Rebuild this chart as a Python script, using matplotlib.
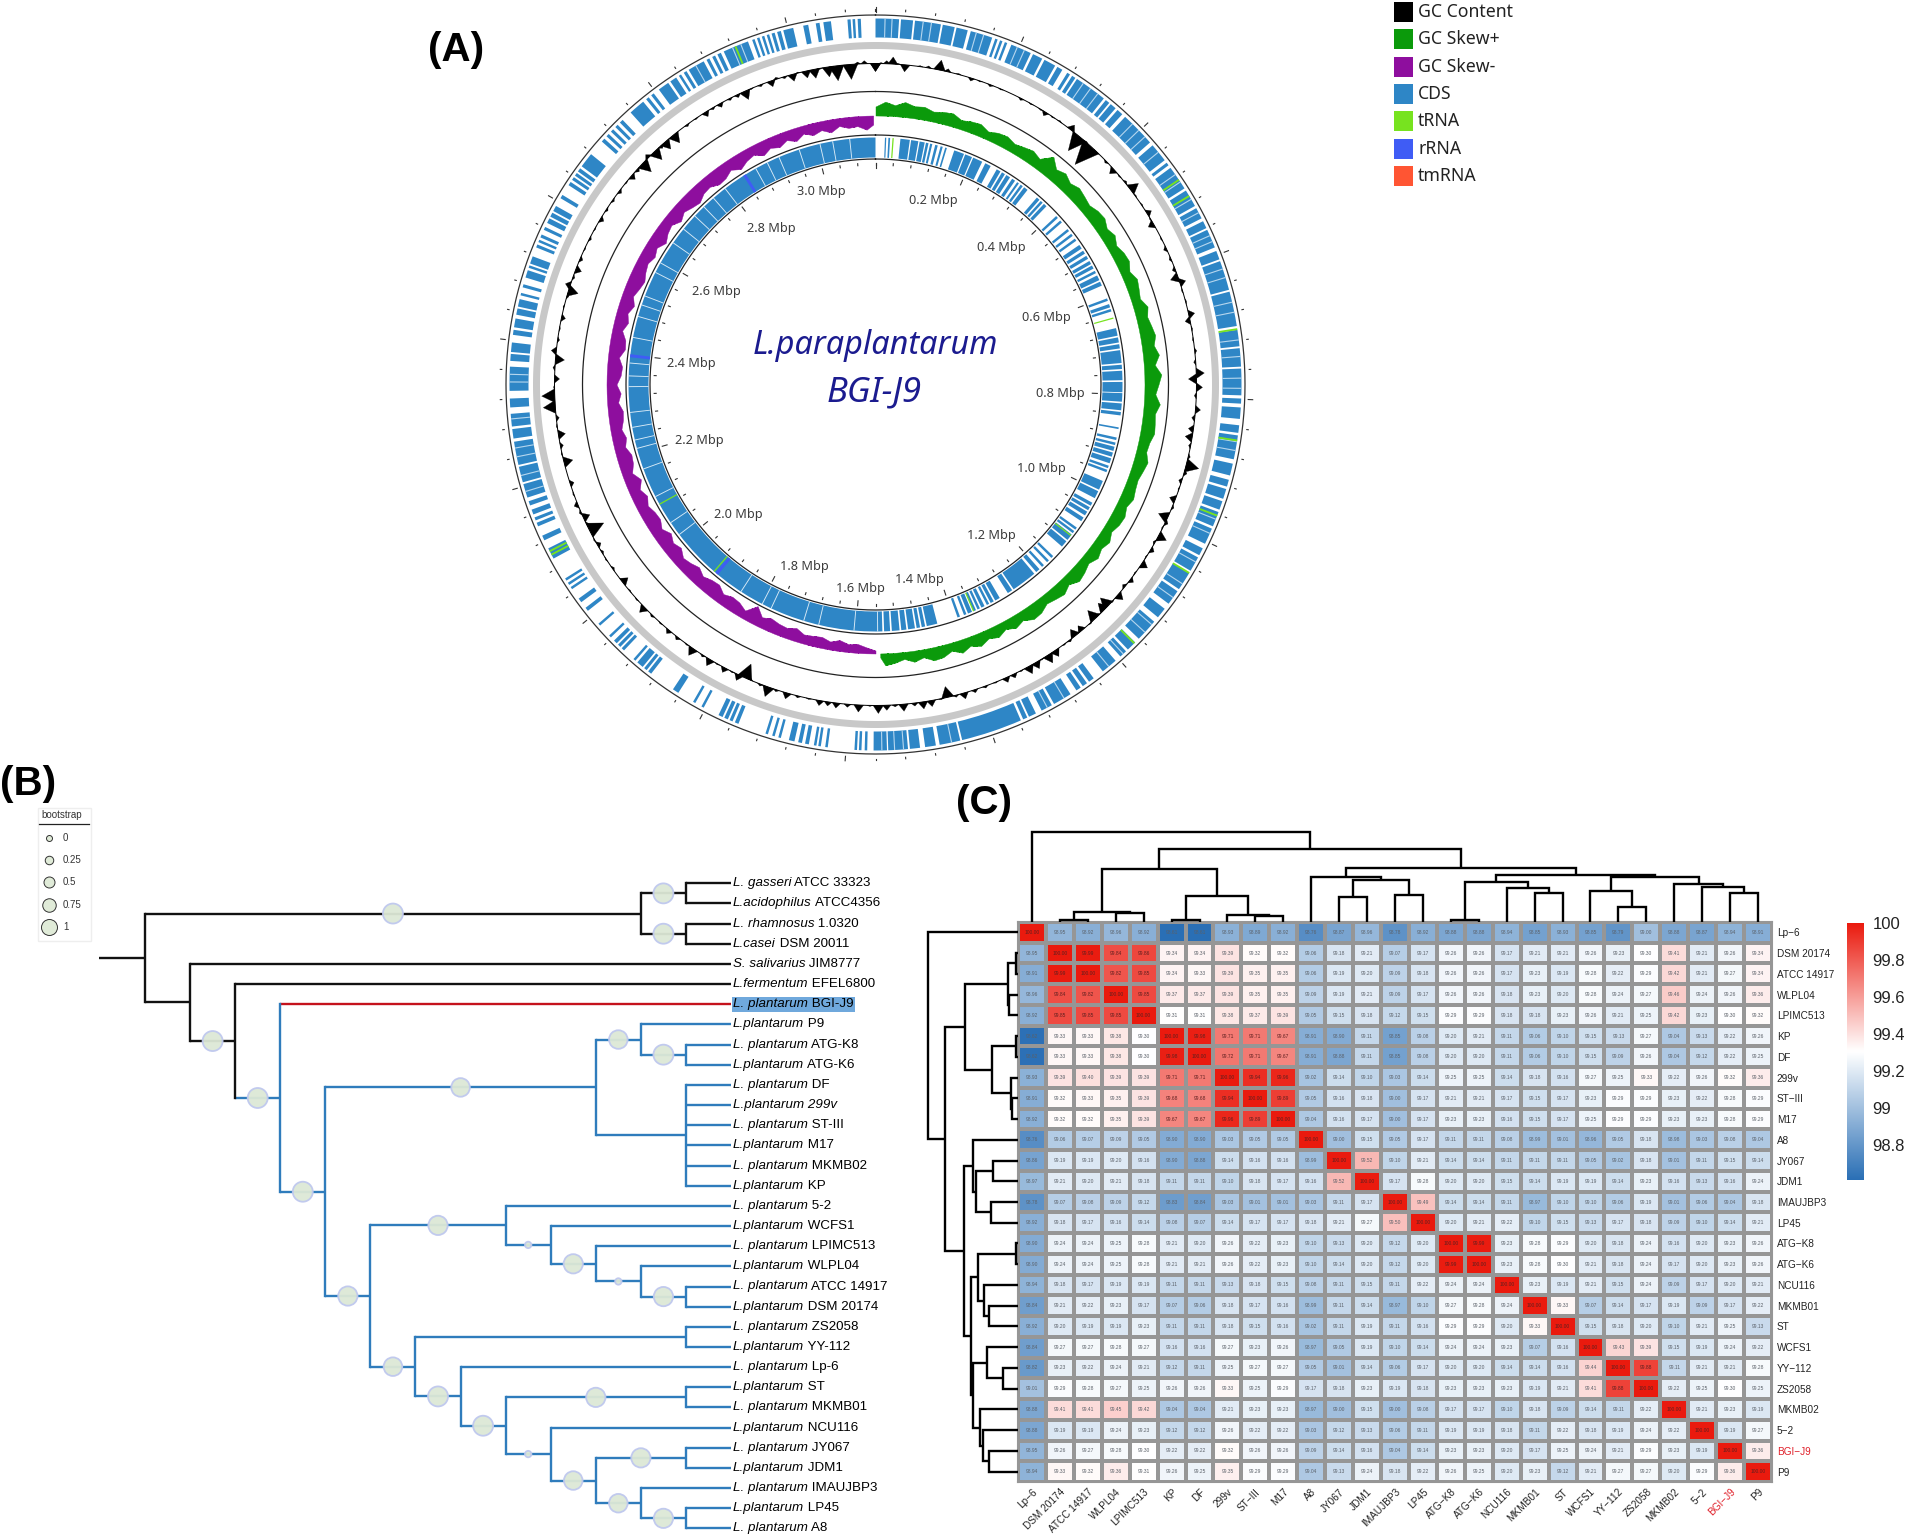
import numpy as np
import matplotlib
matplotlib.use("Agg")
import matplotlib.pyplot as plt
from matplotlib.colors import LinearSegmentedColormap, Normalize
from matplotlib.patches import Rectangle

plt.rcParams['font.family'] = ['Liberation Sans', 'DejaVu Sans']

W, H = 1905, 1538

# ---------- panel C data ----------
strains = ["Lp-6", "DSM 20174", "ATCC 14917", "WLPL04", "LPIMC513", "KP", "DF", "299v", "ST-III", "M17",
           "A8", "JY067", "JDM1", "IMAUJBP3", "LP45", "ATG-K8", "ATG-K6", "NCU116", "MKMB01", "ST",
           "WCFS1", "YY-112", "ZS2058", "MKMB02", "5-2", "BGI-J9", "P9"]

identity = [
 [100.00,98.95,98.92,98.96,98.92,98.61,98.61,98.93,98.89,98.92,98.76,98.87,98.96,98.78,98.92,98.88,98.88,98.94,98.85,98.93,98.85,98.79,99.00,98.88,98.87,98.94,98.91],
 [98.95,100.00,99.99,99.84,99.86,99.34,99.34,99.39,99.32,99.32,99.06,99.18,99.21,99.07,99.17,99.26,99.26,99.17,99.21,99.21,99.26,99.23,99.30,99.41,99.21,99.26,99.34],
 [98.91,99.99,100.00,99.82,99.85,99.34,99.33,99.39,99.35,99.35,99.06,99.19,99.20,99.09,99.18,99.26,99.26,99.17,99.23,99.19,99.28,99.22,99.29,99.42,99.21,99.27,99.34],
 [98.96,99.84,99.82,100.00,99.85,99.37,99.37,99.39,99.35,99.35,99.09,99.19,99.21,99.09,99.17,99.26,99.26,99.18,99.23,99.20,99.28,99.24,99.27,99.46,99.24,99.26,99.36],
 [98.92,99.85,99.85,99.85,100.00,99.31,99.31,99.38,99.37,99.39,99.05,99.15,99.18,99.12,99.15,99.29,99.29,99.18,99.18,99.23,99.26,99.21,99.25,99.42,99.23,99.30,99.32],
 [98.62,99.33,99.33,99.38,99.30,100.00,99.98,99.71,99.71,99.67,98.91,98.90,99.11,98.85,99.08,99.20,99.21,99.11,99.06,99.10,99.15,99.13,99.27,99.04,99.13,99.22,99.26],
 [98.62,99.33,99.33,99.38,99.30,99.98,100.00,99.72,99.71,99.67,98.91,98.88,99.11,98.85,99.08,99.20,99.20,99.11,99.06,99.10,99.15,99.09,99.26,99.04,99.12,99.22,99.25],
 [98.93,99.39,99.40,99.39,99.39,99.71,99.71,100.00,99.94,99.96,99.02,99.14,99.10,99.03,99.14,99.25,99.25,99.14,99.18,99.16,99.27,99.25,99.33,99.22,99.26,99.32,99.36],
 [98.91,99.32,99.33,99.35,99.39,99.68,99.68,99.94,100.00,99.89,99.05,99.16,99.18,99.00,99.17,99.21,99.21,99.17,99.15,99.17,99.23,99.29,99.29,99.23,99.22,99.28,99.29],
 [98.92,99.32,99.32,99.35,99.39,99.67,99.67,99.96,99.89,100.00,99.04,99.16,99.17,99.00,99.17,99.23,99.23,99.16,99.15,99.17,99.25,99.29,99.29,99.23,99.23,99.28,99.29],
 [98.76,99.06,99.07,99.09,99.05,98.90,98.90,99.03,99.05,99.05,100.00,99.00,99.15,99.05,99.17,99.11,99.11,99.08,98.99,99.01,98.96,99.05,99.18,98.98,99.03,99.08,99.04],
 [98.86,99.19,99.19,99.20,99.16,98.90,98.88,99.14,99.16,99.16,98.99,100.00,99.52,99.10,99.21,99.14,99.14,99.11,99.11,99.11,99.05,99.02,99.18,99.01,99.11,99.15,99.14],
 [98.97,99.21,99.20,99.21,99.18,99.11,99.11,99.10,99.18,99.17,99.16,99.52,100.00,99.17,99.28,99.20,99.20,99.15,99.14,99.19,99.19,99.14,99.23,99.16,99.13,99.16,99.24],
 [98.78,99.07,99.08,99.09,99.12,98.83,98.84,99.03,99.01,99.01,99.03,99.11,99.17,100.00,99.49,99.14,99.14,99.11,98.97,99.10,99.10,99.06,99.19,99.01,99.06,99.04,99.18],
 [98.92,99.18,99.17,99.16,99.14,99.08,99.07,99.14,99.17,99.17,99.18,99.21,99.27,99.50,100.00,99.20,99.21,99.22,99.10,99.15,99.13,99.17,99.18,99.09,99.10,99.14,99.21],
 [98.90,99.24,99.24,99.25,99.28,99.21,99.20,99.26,99.22,99.23,99.10,99.13,99.20,99.12,99.20,100.00,99.99,99.23,99.28,99.29,99.20,99.18,99.24,99.16,99.20,99.23,99.26],
 [98.90,99.24,99.24,99.25,99.28,99.21,99.21,99.26,99.22,99.23,99.10,99.14,99.20,99.12,99.20,99.99,100.00,99.23,99.28,99.30,99.21,99.18,99.24,99.17,99.20,99.23,99.26],
 [98.94,99.18,99.17,99.19,99.19,99.11,99.11,99.13,99.18,99.15,99.08,99.11,99.15,99.11,99.22,99.24,99.24,100.00,99.23,99.19,99.21,99.15,99.24,99.09,99.17,99.20,99.21],
 [98.84,99.21,99.22,99.23,99.17,99.07,99.06,99.18,99.17,99.16,98.99,99.11,99.14,98.97,99.10,99.27,99.28,99.24,100.00,99.33,99.07,99.14,99.17,99.19,99.09,99.17,99.22],
 [98.92,99.20,99.19,99.19,99.23,99.11,99.11,99.18,99.15,99.16,99.02,99.11,99.19,99.11,99.16,99.29,99.29,99.20,99.33,100.00,99.15,99.18,99.20,99.10,99.21,99.25,99.13],
 [98.84,99.27,99.27,99.28,99.27,99.16,99.16,99.27,99.23,99.26,98.97,99.05,99.19,99.10,99.14,99.24,99.24,99.23,99.07,99.16,100.00,99.43,99.39,99.15,99.19,99.24,99.22],
 [98.82,99.23,99.22,99.24,99.21,99.12,99.11,99.25,99.27,99.27,99.05,99.01,99.14,99.06,99.17,99.20,99.20,99.14,99.14,99.16,99.44,100.00,99.88,99.11,99.21,99.21,99.28],
 [99.01,99.29,99.28,99.27,99.25,99.26,99.26,99.33,99.25,99.29,99.17,99.18,99.23,99.19,99.18,99.23,99.23,99.23,99.19,99.21,99.41,99.88,100.00,99.22,99.25,99.30,99.25],
 [98.88,99.41,99.41,99.45,99.42,99.04,99.04,99.21,99.23,99.23,98.97,99.00,99.15,99.00,99.08,99.17,99.17,99.10,99.18,99.09,99.14,99.11,99.22,100.00,99.21,99.23,99.19],
 [98.88,99.19,99.19,99.24,99.23,99.12,99.12,99.26,99.22,99.22,99.03,99.12,99.13,99.06,99.11,99.19,99.19,99.18,99.11,99.22,99.18,99.19,99.24,99.22,100.00,99.19,99.27],
 [98.95,99.26,99.27,99.28,99.30,99.22,99.22,99.32,99.26,99.26,99.09,99.14,99.16,99.04,99.14,99.23,99.23,99.20,99.17,99.25,99.24,99.21,99.29,99.23,99.19,100.00,99.36],
 [98.94,99.33,99.32,99.36,99.31,99.26,99.25,99.35,99.29,99.29,99.04,99.13,99.24,99.18,99.22,99.26,99.25,99.20,99.23,99.12,99.21,99.27,99.27,99.20,99.29,99.36,100.00],
]

# (height, left, right)
cluster = (90, "Lp-6",
           (72.7,
            (52.7,
             (10, (2.3, "DSM 20174", "ATCC 14917"), (9, "WLPL04", "LPIMC513")),
             (26.3, (2.3, "KP", "DF"), (7.3, "299v", (6, "ST-III", "M17")))),
            (54,
             (45, "A8", (42.3, (25, "JY067", "JDM1"), (27.3, "IMAUJBP3", "LP45"))),
             (47.3,
              (40.3, (1.7, "ATG-K8", "ATG-K6"), (34.3, "NCU116", (29.3, "MKMB01", "ST"))),
              (45.3,
               (31, "WCFS1", (15, "YY-112", "ZS2058")),
               (37.7, "MKMB02", (35, "5-2", (28.7, "BGI-J9", "P9"))))))))

cbar_ticks = [100, 99.8, 99.6, 99.4, 99.2, 99, 98.8]

# ---------- panel B data ----------
species = {"ATCC 33323": "L. gasseri", "ATCC4356": "L.acidophilus", "1.0320": "L. rhamnosus", "DSM 20011": "L.casei",
           "JIM8777": "S. salivarius", "EFEL6800": "L.fermentum", "BGI-J9": "L. plantarum", "P9": "L.plantarum",
           "ATG-K8": "L. plantarum", "ATG-K6": "L.plantarum", "DF": "L. plantarum", "299v": "L.plantarum",
           "ST-III": "L. plantarum", "M17": "L.plantarum", "MKMB02": "L. plantarum", "KP": "L.plantarum",
           "5-2": "L. plantarum", "WCFS1": "L.plantarum", "LPIMC513": "L. plantarum", "WLPL04": "L.plantarum",
           "ATCC 14917": "L. plantarum", "DSM 20174": "L.plantarum", "ZS2058": "L. plantarum", "YY-112": "L.plantarum",
           "Lp-6": "L. plantarum", "ST": "L.plantarum", "MKMB01": "L. plantarum", "NCU116": "L.plantarum",
           "JY067": "L. plantarum", "JDM1": "L.plantarum", "IMAUJBP3": "L. plantarum", "LP45": "L.plantarum",
           "A8": "L. plantarum"}

# (bootstrap or None, children...)
plantarum = (1.0, "BGI-J9",
             (1.0,
              (0.9, (0.9, "P9", (1.0, "ATG-K8", "ATG-K6")),
               (None, "DF", "299v", "ST-III", "M17", "MKMB02", "KP")),
              (0.95,
               (0.95, "5-2",
                (0.03, "WCFS1",
                 (0.95, "LPIMC513",
                  (0.03, "WLPL04", (0.95, "ATCC 14917", "DSM 20174"))))),
               (0.9, (None, "ZS2058", "YY-112"),
                (1.0, "Lp-6",
                 (1.0, (0.95, "ST", "MKMB01"),
                  (0.03, "NCU116",
                   (0.9, (0.95, "JY067", "JDM1"),
                    (0.9, "IMAUJBP3", (0.95, "LP45", "A8"))))))))))
phylo = (None,
         (1.0, (1.0, "ATCC 33323", "ATCC4356"), (1.0, "1.0320", "DSM 20011")),
         (None, "JIM8777",
          (1.0, "EFEL6800", plantarum)))

boot_levels = [0, 0.25, 0.5, 0.75, 1]
boot_labels = ["0", "0.25", "0.5", "0.75", "1"]

# ---------- panel A data ----------
genome_mbp = 3.12
ring_labels = ["0.2 Mbp", "0.4 Mbp", "0.6 Mbp", "0.8 Mbp", "1.0 Mbp", "1.2 Mbp", "1.4 Mbp", "1.6 Mbp",
               "1.8 Mbp", "2.0 Mbp", "2.2 Mbp", "2.4 Mbp", "2.6 Mbp", "2.8 Mbp", "3.0 Mbp"]
ring_label_dx = [58, 126, 171, 184.5, 165.5, 116, 43.5, -15, -71.5, -137, -176, -184, -159, -104, -54]
ring_label_dy = [184, 137, 66.5, -9, -84, -151, -194.5, -204, -182, -130, -56, 21, 93, 156, 193]

# gene blocks in degrees clockwise from the origin
outer_cds = [(0, 3.7), (4, 5.9), (6.2, 10.3), (10.6, 12.5), (12.8, 14.6), (15.1, 18.6), (19.1, 19.5), (19.9, 20.3),
             (20.7, 21.1), (21.8, 25.1), (25.5, 27.1), (27.5, 29.4), (29.8, 30.7), (31.6, 32.1), (32.5, 33.1),
             (33.4, 38.6), (39, 39.7), (40, 41), (41.4, 42.4), (43, 48.6), (49.2, 52.2), (52.7, 53.2), (53.7, 57.6),
             (58, 60.8), (61.2, 63), (63.5, 64.7), (65, 68), (68.6, 70), (70.3, 75), (75.3, 80.8), (81.4, 84),
             (84.3, 87.2), (87.5, 91.7), (92.2, 93), (93.6, 95.4), (96.4, 97.6), (98, 101.8), (102.5, 104.4),
             (105.1, 106.2), (106.6, 108.2), (108.6, 110), (110.4, 112.8), (113.2, 115.8), (116.6, 117.8),
             (118.2, 120.6), (121, 124), (124.4, 126.8), (127.8, 129.5), (130.4, 134), (134.8, 136.4), (136.8, 138),
             (139, 141.6), (143.4, 144.3), (144.7, 145.5), (145.9, 146.7), (147.8, 150.8), (151.2, 153),
             (154, 155.2), (155.5, 156.2), (156.6, 166.3), (166.6, 169.9), (170.5, 172.2), (173, 174.6), (174.9, 178),
             (178.2, 180.3), (181.3, 181.7), (182.2, 182.6), (182.9, 183.3), (187.5, 187.9), (188.6, 189),
             (189.3, 189.7), (190.5, 191.1), (191.6, 192.2), (192.8, 193.7), (195, 195.4), (196, 196.4), (197.1, 197.5),
             (202, 202.6), (203, 203.5), (203.8, 204.4), (204.7, 205.4), (208, 208.4), (209.5, 209.9), (212.6, 213.6),
             (217.8, 218.4), (218.7, 219.2), (219.5, 220.6), (221, 221.4), (223.4, 223.9), (224.2, 224.7), (225, 225.6),
             (226.3, 226.7), (228.8, 229.2), (231.8, 232.4), (233.5, 234.2), (236, 236.4), (236.8, 237.2), (237.6, 238),
             (241.6, 243.4), (244.8, 245.6), (247.2, 247.8), (248.2, 248.7), (249.2, 250), (250.7, 251.4), (252, 254.2),
             (254.5, 257), (257.3, 261), (261.5, 263), (263.4, 265.4), (266.4, 267.8), (269, 272.8), (273.7, 274.8),
             (275.1, 276.6), (277.8, 278.6), (279, 280.4), (281, 282), (282.3, 283.5), (284.1, 284.5), (285.4, 285.9),
             (287, 288.2), (288.6, 289), (289.3, 290.5), (292, 292.5), (292.9, 293.3), (293.7, 294.2), (295, 295.5),
             (296.2, 297), (297.3, 298), (298.3, 299.2), (300.6, 301.2), (303, 303.6), (304, 304.5), (304.8, 305.3),
             (305.6, 306.2), (306.6, 309), (311.6, 312.2), (312.7, 313.2), (313.7, 314.2), (314.7, 315.2), (315.7, 316.3),
             (318, 320.6), (321.2, 321.7), (322.2, 322.7), (323.7, 325.5), (325.9, 327), (327.5, 327.9), (328.4, 328.9),
             (329.3, 332), (332.5, 333), (333.5, 334), (334.4, 335), (335.5, 339.6), (340.3, 340.7), (341.1, 341.5),
             (341.9, 342.3), (342.7, 343.1), (343.5, 344), (344.4, 345), (345.4, 347), (348.6, 349.4), (350.6, 351.2),
             (351.8, 353), (355.6, 356.1), (356.4, 356.8), (357.2, 357.7)]
outer_thin_gaps = [1.5, 2.6, 7.5, 8.8, 16, 17.2, 22.8, 24, 34.6, 36, 37.4, 44.6, 46, 47.4, 50.6, 55, 56.4, 59.6, 62,
                   66, 67, 71.6, 73, 77, 78.6, 83, 85.6, 89, 90.6, 99, 100.4, 111.6, 114, 119, 123, 125.6, 131, 132.6,
                   137.4, 140.4, 149, 152, 168, 175.6, 177, 179, 253, 255.6, 258.6, 260, 264.6, 270.4, 271.6, 330.6,
                   337, 338.4]
outer_trna = [56, 59, 81.3, 98.8, 111, 121, 135, 242.3, 242.9, 337.5]

inner_cds = [(2.2, 2.5), (3, 3.4), (5.8, 8), (8.3, 10), (10.3, 11.5), (11.8, 12.4), (12.8, 13.3), (14, 14.6), (15.3, 15.8),
             (16.4, 16.8), (18.6, 21), (21.3, 23), (23.3, 25.6), (26.4, 27.8), (29.4, 30.4), (30.8, 31.6), (32, 33),
             (33.6, 34.4), (35, 35.5), (36, 36.6), (37, 38), (40.8, 41.6), (42, 42.6), (43, 43.8), (47, 47.6), (48.4, 49),
             (51, 51.6), (52.4, 53), (53.8, 54.4), (55.6, 56.6), (57.2, 58), (58.6, 59.4), (60, 60.8), (61.2, 62),
             (62.6, 63.2), (63.8, 65), (65.4, 66.4), (69.6, 70.2), (71, 71.8), (72.2, 72.8), (76.8, 78.6), (79, 80.2),
             (80.6, 81.6), (82, 85), (85.4, 86.4), (86.8, 89), (89.4, 91.8), (92, 94), (94.4, 96), (96.4, 97.2),
             (100, 100.4), (102.4, 103), (103.6, 104.2), (104.6, 105.6), (106, 107), (107.4, 108.6), (109.2, 109.8),
             (110.2, 110.8), (113, 115.2), (115.6, 117.4), (118.6, 119.4), (119.8, 120.6), (121, 122), (122.6, 123.6),
             (125.4, 126), (126.4, 127), (127.4, 129), (129.4, 131), (134, 134.6), (135.4, 136), (137, 137.6),
             (138.4, 139.4), (140, 146), (146.4, 147.6), (149.8, 151), (151.4, 152.2), (152.6, 153.2), (153.8, 154.6),
             (155, 155.6), (156, 156.6), (157, 158), (158.4, 159), (160, 160.6), (165.5, 168), (168.4, 169.2),
             (169.6, 170.4), (170.8, 172.4), (172.8, 174), (174.4, 176.2), (176.6, 178), (178.4, 360)]
inner_thin_gaps = [179.5, 185, 193.3, 196.9, 205, 207.3, 213, 232.6, 236, 243, 250, 255, 257, 260, 263.5, 269.5, 272, 275,
                   281, 286, 288.8, 291, 297, 299.5, 305, 309, 313, 316, 319, 322.5, 331, 334, 337, 342, 347, 350, 354]
inner_trna = [4.1, 74.4, 127.7, 156.6, 220.8, 241]
inner_rrna = [220, 276.7, 328]

# GC content peaks: angle in degrees and height off the ring baseline
gc_deg = [0, 1, 2, 3.1, 4, 5.3, 6.5, 8, 9.5, 11.5, 13, 15, 17.4, 19, 21, 23, 25, 27, 29, 31, 32, 33.5, 35, 37.5, 38.5, 39.5,
          40.4, 41, 42.2, 43.5, 44.5, 46, 48, 49.5, 51, 52.6, 54, 56, 57.8, 59, 60, 61.5, 63, 65, 67, 69, 70.5, 71.5, 73, 75,
          77.4, 78.5, 80, 82, 84, 86, 88, 89, 90.5, 92, 94.5, 96, 98, 99.5, 101, 103, 104.6, 106, 107.5, 109, 111, 112.5,
          114.5, 115.5, 116.5, 118.2, 119.5, 121, 122.5, 124, 126, 127.5, 129, 131, 132.5, 133.5, 134.5, 136, 136.8, 138,
          140, 141.5, 142.8, 144, 146, 147.5, 148.8, 150, 151.5, 153, 154.5, 156, 158, 160, 162, 164, 165.5, 167, 168.2,
          170, 171.5, 173, 175, 176.5, 178, 179.5, 181, 183, 185, 187, 188.5, 190, 192, 194, 196, 198, 199.5, 201, 203,
          204, 205.2, 206.5, 208, 209.5, 211, 212.5, 214.6, 216, 218, 220, 222, 224, 226, 228, 230, 232, 233, 235, 237,
          238.5, 240, 241, 243, 244.2, 245.5, 246.5, 248, 250, 252, 254, 256, 257.5, 259, 261, 262.5, 264, 266, 267, 268,
          269.5, 271, 273, 274.5, 276, 278, 280, 282, 284, 286, 287, 288, 289.5, 291, 293, 295, 297, 299, 301, 303, 305,
          307, 309, 310.5, 312, 313.5, 315, 316.5, 318, 319, 321, 322, 324, 326, 328, 329.5, 331, 333, 334.5, 336, 337.2,
          339, 341, 342, 343.5, 345, 346, 347.5, 349, 350, 351.5, 353, 354, 355.5, 356.8, 358, 360]
gc_val = [-8, 1, 3, 7, 1, -7, 0, 1, 2, 10, 3, 1, -3, -1, -2, -1, 0, -2, -1, -1, -4, -1, 1, 6, 0, -18,
          0, 1, -24, -3, 0, -2, -6, -1, 2, 10, 1, 1, 5, -1, -6, 0, -1, -3, -2, -3, -8, 6, -1, 1,
          6, -5, 1, -1, 2, -2, 8, -8, 6, -2, 5, -3, -5, -7, -2, 2, 13, 3, -3, -1, -6, 2,
          -10, 3, -1, 9, -2, 4, -1, 7, -1, 4, -3, 7, 1, -11, -9, -2, -11, 1,
          -6, -8, 2, 1, 7, 9, 1, 7, 8, 1, 4, 5, 1, 2, 3, 6, 2, -11, 1,
          6, 7, 3, 7, 2, 5, 8, 1, 7, 3, 5, 4, 5, 1, 2, 6, 2, 10, 2, -2,
          -15, 6, 1, 5, 1, 7, 2, 8, 1, 3, 4, 1, 2, 7, 1, -1, -7, 0, -2, 1,
          -2, -4, 1, -16, -2, -7, 2, 4, 1, -4, 0, -9, 1, -3, -7, 1, -3, 12, 0, 13,
          1, -5, 2, -9, 5, -2, -1, -4, 1, -2, -10, 5, -2, -6, -3, -1, -2, -1, -4, -2, -2,
          -3, -1, -5, -3, -12, 4, -11, -3, -9, -10, 0, -2, -1, -5, -2, -4, -2, -3, -9, -1,
          -2, -6, 2, -2, -7, 1, -7, -9, -1, -10, -15, -1, -15, 2, 3, -8]

# skew amplitude every 2 degrees, closed with the last reading at the strand switch
skew_plus = [9, 14, 11, 15, 12, 13, 10, 12, 13, 9, 11, 12, 8, 11, 12, 9, 11, 13, 10, 20,
             12, 15, 11, 14, 12, 10, 13, 14, 10, 13, 9, 12, 13, 9, 13, 11, 9, 14, 11, 13,
             15, 12, 16, 11, 17, 14, 11, 16, 12, 13, 14, 11, 10, 14, 12, 10, 11, 13, 10, 13,
             12, 9, 13, 10, 13, 9, 12, 14, 9, 13, 11, 9, 13, 14, 9, 12, 8, 12, 9, 13,
             9, 13, 8, 12, 13, 8, 11, 7, 10, 12, 4]
skew_minus = [3, 6, 9, 8, 11, 8, 11, 10, 9, 13, 10, 11, 13, 10, 18, 8, 12, 13, 10, 15,
              14, 11, 15, 12, 10, 15, 12, 16, 11, 15, 14, 11, 15, 11, 16, 10, 14, 15, 11, 14,
              11, 14, 15, 11, 14, 10, 14, 15, 11, 16, 15, 10, 14, 11, 15, 11, 14, 16, 13, 11,
              14, 11, 16, 12, 10, 15, 11, 14, 16, 12, 11, 15, 14, 10, 15, 11, 9, 14, 10, 13,
              9, 13, 8, 12, 9, 13, 8, 11, 10, 14, 9]

legend_names = ["GC Content", "GC Skew+", "GC Skew-", "CDS", "tRNA", "rRNA", "tmRNA"]
legend_colors = ["#000000", "#0B9A0B", "#8E0E9E", "#2E86C6", "#77E31F", "#3F5CF5", "#FF5533"]

# ---------- figure ----------
fig = plt.figure(figsize=(W / 100, H / 100), dpi=100, facecolor="white")


def px_axes(x0, y0, x1, y1, **kw):
    return fig.add_axes([x0 / W, 1 - y1 / H, (x1 - x0) / W, (y1 - y0) / H], **kw)


# page axes for free text, in pixels
page = px_axes(0, 0, W, H)
page.set_xlim(0, W)
page.set_ylim(H, 0)
page.set_axis_off()
page.text(428, 50, "(A)", fontsize=29, fontweight="bold", va="center")
page.text(0, 784, "(B)", fontsize=29, fontweight="bold", va="center")
page.text(956, 803, "(C)", fontsize=29, fontweight="bold", va="center")

for i, (nm, col) in enumerate(zip(legend_names, legend_colors)):
    yy = 12 + 27.3 * i
    page.add_patch(Rectangle((1394, yy - 10), 19, 20, fc=col, ec="none"))
    page.text(1418, yy, nm, fontsize=12.7, va="center", color="#222222", family="Noto Sans")

cx, cy = 875.5, 384.5
for lab, dx, dy in zip(ring_labels, ring_label_dx, ring_label_dy):
    page.text(cx + dx, cy - dy, lab, fontsize=9.2, ha="center", va="center", color="#3C3C3C", family="Noto Sans")
page.text(875, 346, "L.paraplantarum", fontsize=23.3, style="italic", color="#1B1B8F", ha="center", va="center",
          family="Noto Sans")
page.text(874, 392, "BGI-J9", fontsize=25, style="italic", color="#1B1B8F", ha="center", va="center",
          family="Noto Sans")

# bootstrap key
page.add_patch(Rectangle((38, 808), 53, 133, fc="white", ec="#EEEEEE", lw=1))
page.text(41, 815.5, "bootstrap", fontsize=7, va="center", color="#333333")
page.plot([39, 89], [824, 824], color="#222222", lw=0.9)
for j, (lv, lb) in enumerate(zip(boot_levels, boot_labels)):
    yy = 838 + 22.2 * j
    d = (6 + 10 * lv) * 0.72
    page.scatter([48.7], [yy], s=d ** 2, fc="#E0EBD8", ec="#333333", lw=0.7)
    page.text(63, yy, lb, fontsize=7, va="center", color="#333333")

# ---------- ring map ----------
R = 385
ring = px_axes(cx - R, cy - R, cx + R, cy + R, projection="polar")
ring.patch.set_alpha(0)
ring.set_theta_zero_location("N")
ring.set_theta_direction(-1)
ring.set_ylim(0, R)
ring.set_axis_off()


def band(ax, spans, r0, r1, color, z=2):
    spans = np.radians(np.array(spans, dtype=float))
    ax.bar(spans[:, 0], r1 - r0, width=spans[:, 1] - spans[:, 0], bottom=r0, align="edge", color=color, lw=0, zorder=z)


def marks(ax, degs, r0, r1, color, w=0.35, z=3):
    band(ax, [(d - w / 2, d + w / 2) for d in degs], r0, r1, color, z)


full = np.linspace(0, 2 * np.pi, 721)
for rr, col, lw in [(369.5, "#333333", 0.9), (293, "#222222", 0.9), (249.5, "#222222", 0.9), (225.5, "#222222", 0.9)]:
    ring.plot(full, np.full_like(full, rr), color=col, lw=lw, zorder=4)

ring.fill_between(full, 336, 343, color="#C8C8C8", lw=0, zorder=2)
band(ring, outer_cds, 347, 366, legend_colors[3])
marks(ring, outer_thin_gaps, 347, 366, "#B5D6EE", 0.18)
marks(ring, outer_trna, 347, 366, legend_colors[4], 0.3)
band(ring, inner_cds, 227, 247, legend_colors[3])
marks(ring, inner_thin_gaps, 227, 247, "#D8EAF6", 0.22)
marks(ring, inner_trna, 227, 247, legend_colors[4], 0.3)
marks(ring, inner_rrna, 227, 247, legend_colors[5], 0.7)

# each GC reading is a narrow peak on the baseline
ring.plot(full, np.full_like(full, 321.0), color="black", lw=0.7, zorder=3)
for d, v in zip(gc_deg, gc_val):
    if v != 0:
        half = 0.45 + 0.06 * abs(v)
        ring.fill(np.radians([d - half, d, d + half]), [321, 321 + v, 321], color="black", lw=0.2, zorder=3)

skew_deg = list(np.arange(0, 180, 2)) + [179]
ring.fill_between(np.radians(skew_deg), 269, 269 + np.array(skew_plus, dtype=float), color=legend_colors[1], lw=0.3, zorder=3)
skew_deg2 = list(np.arange(180, 360, 2)) + [359.5]
ring.fill_between(np.radians(skew_deg2), 269, 269 - np.array(skew_minus, dtype=float), color=legend_colors[2], lw=0.3, zorder=3)

# position ticks every 0.04 Mbp, longer each 0.2 Mbp
n_ticks = int(genome_mbp / 0.04) + 1
for k in range(n_ticks):
    t = 2 * np.pi * k * 0.04 / genome_mbp
    major = k % 5 == 0
    ring.plot([t, t], [217, 222] if major else [219.5, 221.5], color="#333333", lw=0.8, zorder=4)
    ring.plot([t, t], [373, 377.5] if major else [374, 375.5], color="#333333", lw=0.8, zorder=4)

# ---------- phylogeny ----------
tree_ax = px_axes(90, 870, 735, 1538)
step, tip_row0, row_h = 45.08, 883.3, 20.16
tree_ax.set_xlim((90 - 145) / step, (735 - 145) / step)
tree_ax.set_ylim((1538 - tip_row0) / row_h, (870 - tip_row0) / row_h)
tree_ax.set_axis_off()
tree_black, tree_blue, tree_red = "#111111", "#2F7CBC", "#C4121C"
MAX_DEPTH = 13
bubble_x, bubble_y, bubble_b = [], [], []
row_counter = [0]


def node_height(node):
    if isinstance(node, str):
        return 0
    return 1 + max(node_height(c) for c in node[1:])


def draw_node(node, parent_depth, color):
    if isinstance(node, str):
        row = row_counter[0]
        row_counter[0] += 1
        tip_col = tree_red if node == "BGI-J9" else color
        tree_ax.plot([parent_depth, MAX_DEPTH], [row, row], color=tip_col, lw=1.7, solid_capstyle="butt", zorder=2)
        kw = {}
        if node == "BGI-J9":
            kw["bbox"] = dict(fc="#6FA8DC", ec="none", pad=1)
        italic_part = species[node] + " 299v" if node == "299v" else species[node]
        # first part on top so the highlight of the second does not cover its last letter
        t1 = tree_ax.text(MAX_DEPTH + 0.04, row, italic_part, style="italic", fontsize=9.6, va="center", zorder=6, **kw)
        if node != "299v":
            tree_ax.annotate(" " + node, xy=(1, 0.5), xycoords=t1, va="center", fontsize=9.6, zorder=5, **kw)
        return row
    if node is plantarum:
        color = tree_blue
    depth = MAX_DEPTH - node_height(node)
    rows = [draw_node(c, depth, color) for c in node[1:]]
    y = (rows[0] + rows[-1]) / 2
    tree_ax.plot([depth, depth], [rows[0], rows[-1]], color=color, lw=1.7, solid_capstyle="projecting", zorder=2)
    if parent_depth is not None:
        tree_ax.plot([parent_depth, depth], [y, y], color=color, lw=1.7, solid_capstyle="butt", zorder=2)
        if node[0] is not None:
            bubble_x.append((parent_depth + depth) / 2)
            bubble_y.append(y)
            bubble_b.append(node[0])
    return y


root_y = draw_node(phylo, None, tree_black)
tree_ax.plot([-1.02, 0], [root_y, root_y], color=tree_black, lw=1.7, solid_capstyle="butt")
diam = (6 + 14 * np.array(bubble_b)) * 0.72
tree_ax.scatter(bubble_x, bubble_y, s=diam ** 2, fc="#DDE8D6", ec="#BFC8EE", lw=1.3, alpha=0.95, zorder=3)

# ---------- heatmap ----------
cmap = LinearSegmentedColormap.from_list("idn", ["#2A6FB5", "#FFFFFF", "#EA1A0E"])
norm = Normalize(98.61, 100)
hm = px_axes(1018, 922, 1772, 1482)
n = len(strains)
values = np.array(identity)
edges = np.arange(n + 1)
mesh = hm.pcolormesh(edges, edges, values, cmap=cmap, norm=norm, edgecolors="#969696", linewidth=1.5)
hm.set_xlim(0, n)
hm.set_ylim(n, 0)
for i in range(n):
    for j in range(n):
        hm.text(j + 0.5, i + 0.5, "%.2f" % values[i, j], ha="center", va="center", fontsize=3.5,
                color="#5E2020" if values[i, j] > 99.6 else "#5A6068")
shown = [s.replace("-", "\u2212") for s in strains]
hm.set_xticks(edges[:-1] + 0.5)
hm.set_yticks(edges[:-1] + 0.5)
hm.set_xticklabels(shown, rotation=45, ha="right", va="top", rotation_mode="anchor", fontsize=7.2, color="#222222")
hm.set_yticklabels(shown, fontsize=7.2, color="#222222")
hm.yaxis.tick_right()
hm.tick_params(length=0, pad=3.5)
for sp in hm.spines.values():
    sp.set_color("#969696")
    sp.set_linewidth(1.5)
for lab_list in (hm.get_xticklabels(), hm.get_yticklabels()):
    for lab in lab_list:
        if lab.get_text() == "BGI\u2212J9":
            lab.set_color("#E0202A")

cax = px_axes(1847, 923, 1864, 1180)
cb = fig.colorbar(mesh, cax=cax, ticks=cbar_ticks)
cb.ax.set_yticklabels([str(t) for t in cbar_ticks], fontsize=12, color="#222222")
cb.ax.tick_params(length=0, pad=6)
cb.outline.set_visible(False)

# ---------- dendrograms ----------
top_d = px_axes(1018, 830, 1772, 922)
top_d.set_xlim(0, n)
top_d.set_ylim(0, 92)
top_d.set_axis_off()
left_d = px_axes(926, 922, 1018, 1482)
left_d.set_xlim(92, 0)
left_d.set_ylim(n, 0)
left_d.set_axis_off()


def draw_cluster(node):
    if isinstance(node, str):
        return strains.index(node) + 0.5, 0
    h, a, b = node
    xa, ha = draw_cluster(a)
    xb, hb = draw_cluster(b)
    style = dict(color="black", lw=1.7, solid_joinstyle="miter", solid_capstyle="butt", clip_on=False)
    top_d.plot([xa, xa, xb, xb], [ha, h, h, hb], **style)
    left_d.plot([ha, h, h, hb], [xa, xa, xb, xb], **style)
    return (xa + xb) / 2, h


draw_cluster(cluster)

fig.savefig("out.png", dpi=100)
